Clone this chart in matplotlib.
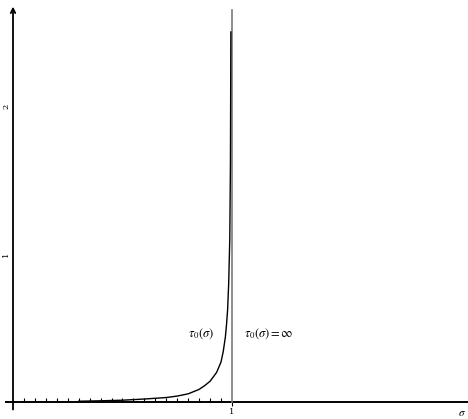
import matplotlib.pyplot as plt
import numpy as np

# values
sigma = [0.30, 0.40, 0.50, 0.60, 0.65, 0.70, 0.75, 0.80, 0.85, 0.875,
         0.90, 0.915, 0.93, 0.95, 0.96, 0.97, 0.975, 0.98, 0.985, 0.99,
         0.993, 0.995]
tau0 = [0.005, 0.008, 0.012, 0.02, 0.025, 0.03, 0.04, 0.055, 0.085, 0.11,
        0.14, 0.17, 0.20, 0.27, 0.34, 0.44, 0.52, 0.62, 0.80, 1.10,
        1.60, 2.50]
minor_ticks = np.arange(1, 20) * 0.05
y_labels = [1, 2]

plt.rcParams['mathtext.fontset'] = 'stix'

fig = plt.figure(figsize=(4.68, 4.19), dpi=100)
ax = fig.add_axes([0, 0, 1, 1])
ax.set_xlim(-0.0594, 2.078)
ax.set_ylim(-0.115, 2.716)
ax.axis('off')

# axes
ax.plot([-0.03, 2.078], [0, 0], color='black', lw=1.4)
ax.annotate('', xy=(0, 2.69), xytext=(0, -0.07),
            arrowprops=dict(arrowstyle='->', color='black', lw=1.3,
                            mutation_scale=8))
ax.vlines(minor_ticks, 0, 0.025, color='black', lw=0.8)
ax.vlines([1], -0.03, 0, color='black', lw=0.8)

# asymptote
ax.plot([1, 1], [0, 2.65], color='#7a7a7a', lw=1.2)

# curve
ax.plot(sigma, tau0, color='black', lw=1.0)

# labels
fs = 9
ax.text(1, -0.04, '1', ha='center', va='top', fontsize=6, family='serif')
for v in y_labels:
    ax.text(-0.032, v, str(v), ha='center', va='center', fontsize=6,
            family='serif', rotation=90)
ax.text(2.05, -0.04, r'$\sigma$', ha='center', va='top', fontsize=8)
ax.text(0.86, 0.46, r'$\tau_0(\sigma)$', ha='center', va='center', fontsize=fs)
ax.text(1.17, 0.46, r'$\tau_0(\sigma)=\infty$', ha='center', va='center',
        fontsize=fs)

fig.savefig('out.png', dpi=100)
